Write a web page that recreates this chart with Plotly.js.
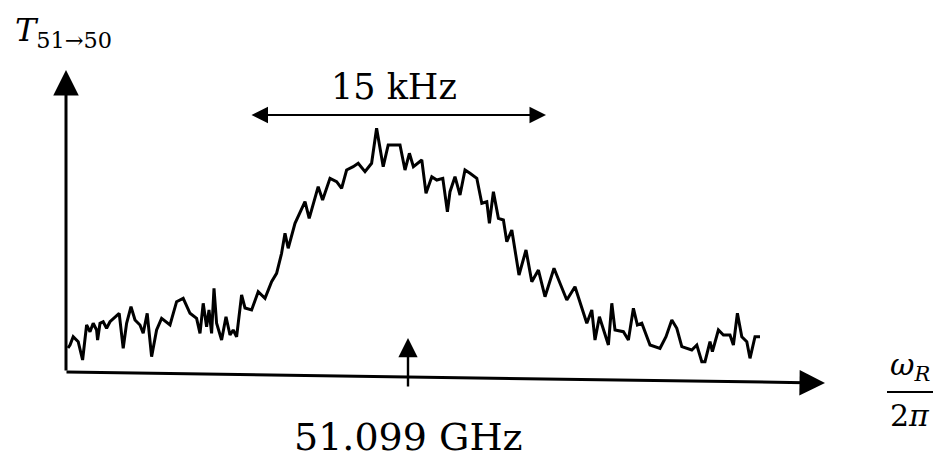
<!DOCTYPE html>
<html>
<head>
<meta charset="utf-8">
<script src="https://cdn.plot.ly/plotly-3.0.1.min.js"></script>
<style>html,body{margin:0;padding:0;background:#fff;}#chart{width:949px;height:461px;}</style>
</head>
<body>
<div id="chart"></div>
<script>
// Detuning from 51.099 GHz (kHz) and transmission T(51->50) (arbitrary units)
const detuningKHz = [-17.0,-16.9,-16.74,-16.49,-16.27,-16.07,-15.9,-15.74,-15.57,-15.52,-15.4,-15.24,-15.07,-14.9,-14.44,-14.24,-14.07,-13.85,-13.65,-13.4,-13.24,-13.04,-12.82,-12.57,-12.32,-11.9,-11.57,-11.24,-10.9,-10.57,-10.4,-10.24,-10.07,-9.95,-9.82,-9.7,-9.57,-9.32,-9.1,-8.9,-8.74,-8.57,-8.32,-8.15,-7.82,-7.49,-7.15,-6.82,-6.57,-6.32,-6.15,-5.99,-5.65,-5.15,-4.94,-4.49,-4.27,-3.9,-3.57,-3.32,-3.07,-2.74,-2.49,-2.15,-1.82,-1.57,-1.24,-0.99,-0.4,-0.15,0.07,0.27,0.69,0.9,1.19,1.44,1.74,1.97,2.1,2.35,2.6,2.85,3.1,3.44,3.69,3.94,4.07,4.27,4.52,4.77,4.94,5.19,5.55,5.9,6.19,6.52,6.85,7.3,7.6,7.94,8.35,8.94,9.19,9.35,9.57,9.77,10.02,10.19,10.35,10.77,11.02,11.27,11.47,11.69,12.1,12.6,12.9,13.19,13.44,13.69,14.19,14.44,14.69,14.85,15.1,15.22,15.52,15.77,16.1,16.27,16.47,16.69,16.94,17.1,17.35,17.6];
const transmission = [10.0,11.2,14.52,12.52,5.2,19.2,16.52,19.88,17.2,13.2,19.88,20.52,17.88,20.52,23.88,9.88,19.88,26.52,21.2,19.2,15.88,23.88,6.52,17.2,21.88,19.2,28.52,29.88,23.88,21.88,15.88,27.88,18.52,25.2,15.88,33.88,19.88,13.2,22.52,15.2,17.2,14.52,31.2,26.0,25.2,32.52,29.88,36.52,39.88,47.88,55.88,49.88,59.88,68.52,61.88,74.52,69.2,77.88,76.52,73.88,81.2,82.52,83.88,80.52,83.88,97.88,82.52,91.2,91.2,81.2,87.88,82.52,85.2,71.88,78.52,77.2,77.88,64.52,72.52,78.52,71.2,81.2,79.88,77.88,67.88,68.52,59.88,72.52,61.88,61.2,52.52,57.2,39.2,49.2,36.52,41.2,30.52,41.88,35.88,29.2,34.52,19.88,25.2,13.2,22.52,17.88,11.2,27.88,17.2,16.52,13.2,25.88,19.2,19.88,11.2,9.88,14.52,21.2,17.88,10.52,9.2,11.2,4.52,4.52,12.52,8.52,17.2,15.2,15.2,11.2,23.88,14.52,12.52,5.88,14.52,14.52];

// Text labels
const yLabel = '<i>T</i><sub>51→50</sub>';
const widthLabel = '15 kHz';
const centerLabel = '51.099 GHz';
const xLabelNum = '<i>ω</i><sub><i>R</i></sub>';
const xLabelDen = '2<i>π</i>';

// Annotation anchors (data units)
const widthSpan = [-7.9, 6.9];   // 15 kHz double arrow
const centerFreq = 0;             // 51.099 GHz

const serif = 'DejaVu Serif, Liberation Serif, serif';

const trace = {
  x: detuningKHz, y: transmission, type: 'scatter', mode: 'lines',
  line: {color: '#000', width: 3}, hoverinfo: 'skip'
};

function arrow(x, y, ax, ay, opts) {
  return Object.assign({
    x: x, y: y, ax: ax, ay: ay, xref: 'x', yref: 'y', axref: 'x', ayref: 'y',
    text: '', showarrow: true, arrowhead: 2, arrowsize: 1.6, arrowwidth: 2.8,
    arrowcolor: '#000', standoff: 0, startstandoff: 0
  }, opts || {});
}

const annotations = [
  // y axis
  arrow(-17.1, 121.2, -17.1, 0.4, {arrowsize: 1.7, arrowwidth: 3}),
  // x axis
  arrow(20.85, -4.0, -17.15, 0.4, {arrowsize: 1.7, arrowwidth: 3}),
  // center marker
  arrow(centerFreq, 14.0, centerFreq, -6.0, {arrowsize: 1.6, arrowwidth: 2.4}),
  // 15 kHz double arrow
  arrow(widthSpan[1], 103.2, widthSpan[0], 103.2, {arrowside: 'end+start', arrowsize: 1.5, arrowwidth: 2.2, arrowhead: 2, startarrowhead: 2, startarrowsize: 1.5}),
  {x: -0.7, y: 114.4, xref: 'x', yref: 'y', text: widthLabel, showarrow: false,
   font: {family: serif, size: 35, color: '#000'}},
  {x: centerFreq, y: -25.6, xref: 'x', yref: 'y', text: centerLabel, showarrow: false,
   font: {family: serif, size: 38, color: '#000'}},
  {x: -19.75, y: 136.5, xref: 'x', yref: 'y', xanchor: 'left', text: yLabel, showarrow: false,
   font: {family: serif, size: 32, color: '#000'}},
  {x: 25.1, y: 2.5, xref: 'x', yref: 'y', text: xLabelNum, showarrow: false,
   font: {family: serif, size: 30, color: '#000'}},
  {x: 25.1, y: -16.8, xref: 'x', yref: 'y', text: xLabelDen, showarrow: false,
   font: {family: serif, size: 30, color: '#000'}}
];

const shapes = [
  {type: 'line', xref: 'x', yref: 'y', x0: 23.95, x1: 26.25, y0: -7.6, y1: -7.6,
   line: {color: '#000', width: 2}}
];

const layout = {
  width: 949, height: 461,
  margin: {l: 0, r: 0, t: 0, b: 0, pad: 0},
  paper_bgcolor: '#fff', plot_bgcolor: '#fff',
  showlegend: false,
  xaxis: {range: [-20.4, 27.05], visible: false, fixedrange: true},
  yaxis: {range: [-35.2, 149.2], visible: false, fixedrange: true},
  annotations: annotations, shapes: shapes
};

Plotly.newPlot('chart', [trace], layout, {displayModeBar: false, staticPlot: true});
</script>
</body>
</html>
